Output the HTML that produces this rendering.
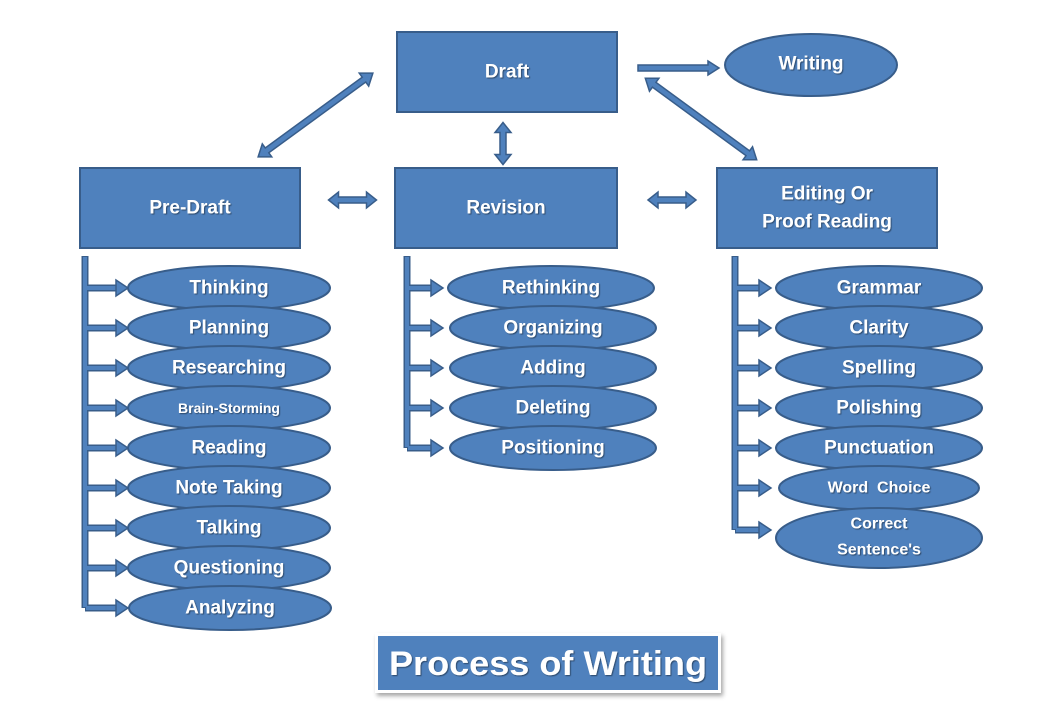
<!DOCTYPE html>
<html><head><meta charset="utf-8"><style>
html,body{margin:0;padding:0;background:#fff;}
svg{display:block;}
text{font-family:"Liberation Sans",sans-serif;font-weight:bold;fill:#fff;text-anchor:middle;dominant-baseline:central;}
.b{fill:#4f81bd;stroke:#385d8a;stroke-width:2;}
.a{fill:#4f81bd;stroke:#385d8a;stroke-width:1.5;stroke-linejoin:miter;}
.ld{fill:none;stroke:#385d8a;stroke-width:7;}
.ll{fill:none;stroke:#4f81bd;stroke-width:4;}
</style></head><body>
<svg width="1040" height="720" viewBox="0 0 1040 720" xmlns="http://www.w3.org/2000/svg">
<defs><filter id="sh" x="-10%" y="-20%" width="130%" height="150%"><feDropShadow dx="2" dy="3" stdDeviation="2" flood-color="#000" flood-opacity="0.35"/></filter>
<filter id="ts"><feDropShadow dx="1" dy="1" stdDeviation="0.6" flood-color="#000" flood-opacity="0.45"/></filter></defs>

<!-- main boxes -->
<rect class="b" x="397" y="32" width="220" height="80"/>
<text x="507" y="72" font-size="19" filter="url(#ts)">Draft</text>
<rect class="b" x="80" y="168" width="220" height="80"/>
<text x="190" y="208" font-size="19" filter="url(#ts)">Pre-Draft</text>
<rect class="b" x="395" y="168" width="222" height="80"/>
<text x="506" y="208" font-size="19" filter="url(#ts)">Revision</text>
<rect class="b" x="717" y="168" width="220" height="80"/>
<text x="827" y="194" font-size="19" filter="url(#ts)">Editing Or</text>
<text x="827" y="222" font-size="19" filter="url(#ts)">Proof Reading</text>
<ellipse class="b" cx="811" cy="65" rx="86" ry="31"/>
<text x="811" y="64" font-size="19" filter="url(#ts)">Writing</text>

<!-- arrows -->
<polygon class="a" transform="translate(315.5,115) rotate(-36.1)" points="-71,0 -60,-8 -60,-3 60,-3 60,-8 71,0 60,8 60,3 -60,3 -60,8"/>
<polygon class="a" transform="translate(701,119) rotate(36.2)" points="-69,0 -58,-8 -58,-3 58,-3 58,-8 69,0 58,8 58,3 -58,3 -58,8"/>
<polygon class="a" transform="translate(503,143.5) rotate(90)" points="-21,0 -11,-8 -11,-3 11,-3 11,-8 21,0 11,8 11,3 -11,3 -11,8"/>
<polygon class="a" transform="translate(352.5,200)" points="-24,0 -14,-8 -14,-3 14,-3 14,-8 24,0 14,8 14,3 -14,3 -14,8"/>
<polygon class="a" transform="translate(672,200)" points="-24,0 -14,-8 -14,-3 14,-3 14,-8 24,0 14,8 14,3 -14,3 -14,8"/>
<polygon class="a" points="638,65 708,65 708,61 719,68 708,75 708,71 638,71"/>

<!-- left brackets -->
<g>
<path class="ld" d="M85,256 V608"/>
<path class="ld" d="M85,288 H118 M85,328 H118 M85,368 H118 M85,408 H118 M85,448 H118 M85,488 H118 M85,528 H118 M85,568 H118 M85,608 H118"/>
<path class="ll" d="M85,257 V607"/>
<path class="ll" d="M86,288 H119 M86,328 H119 M86,368 H119 M86,408 H119 M86,448 H119 M86,488 H119 M86,528 H119 M86,568 H119 M86,608 H119"/>
<g class="a">
<polygon points="116,280 128,288 116,296"/><polygon points="116,320 128,328 116,336"/><polygon points="116,360 128,368 116,376"/>
<polygon points="116,400 128,408 116,416"/><polygon points="116,440 128,448 116,456"/><polygon points="116,480 128,488 116,496"/>
<polygon points="116,520 128,528 116,536"/><polygon points="116,560 128,568 116,576"/><polygon points="116,600 128,608 116,616"/>
</g>
</g>
<!-- middle brackets -->
<g>
<path class="ld" d="M407,256 V448"/>
<path class="ld" d="M407,288 H433 M407,328 H433 M407,368 H433 M407,408 H433 M407,448 H433"/>
<path class="ll" d="M407,257 V447"/>
<path class="ll" d="M408,288 H434 M408,328 H434 M408,368 H434 M408,408 H434 M408,448 H434"/>
<g class="a">
<polygon points="431,280 443,288 431,296"/><polygon points="431,320 443,328 431,336"/><polygon points="431,360 443,368 431,376"/>
<polygon points="431,400 443,408 431,416"/><polygon points="431,440 443,448 431,456"/>
</g>
</g>
<!-- right brackets -->
<g>
<path class="ld" d="M735,256 V530"/>
<path class="ld" d="M735,288 H761 M735,328 H761 M735,368 H761 M735,408 H761 M735,448 H761 M735,488 H761 M735,530 H761"/>
<path class="ll" d="M735,257 V529"/>
<path class="ll" d="M736,288 H762 M736,328 H762 M736,368 H762 M736,408 H762 M736,448 H762 M736,488 H762 M736,530 H762"/>
<g class="a">
<polygon points="759,280 771,288 759,296"/><polygon points="759,320 771,328 759,336"/><polygon points="759,360 771,368 759,376"/>
<polygon points="759,400 771,408 759,416"/><polygon points="759,440 771,448 759,456"/><polygon points="759,480 771,488 759,496"/>
<polygon points="759,522 771,530 759,538"/>
</g>
</g>

<!-- left ellipses -->
<g font-size="19">
<ellipse class="b" cx="229" cy="288" rx="101" ry="22"/><text x="229" y="288" filter="url(#ts)">Thinking</text>
<ellipse class="b" cx="229" cy="328" rx="101" ry="22"/><text x="229" y="328" filter="url(#ts)">Planning</text>
<ellipse class="b" cx="229" cy="368" rx="101" ry="22"/><text x="229" y="368" filter="url(#ts)">Researching</text>
<ellipse class="b" cx="229" cy="408" rx="101" ry="22"/><text x="229" y="408" font-size="14" filter="url(#ts)">Brain-Storming</text>
<ellipse class="b" cx="229" cy="448" rx="101" ry="22"/><text x="229" y="448" filter="url(#ts)">Reading</text>
<ellipse class="b" cx="229" cy="488" rx="101" ry="22"/><text x="229" y="488" filter="url(#ts)">Note Taking</text>
<ellipse class="b" cx="229" cy="528" rx="101" ry="22"/><text x="229" y="528" filter="url(#ts)">Talking</text>
<ellipse class="b" cx="229" cy="568" rx="101" ry="22"/><text x="229" y="568" filter="url(#ts)">Questioning</text>
<ellipse class="b" cx="230" cy="608" rx="101" ry="22"/><text x="230" y="608" filter="url(#ts)">Analyzing</text>
</g>
<!-- middle ellipses -->
<g font-size="19">
<ellipse class="b" cx="551" cy="288" rx="103" ry="22"/><text x="551" y="288" filter="url(#ts)">Rethinking</text>
<ellipse class="b" cx="553" cy="328" rx="103" ry="22"/><text x="553" y="328" filter="url(#ts)">Organizing</text>
<ellipse class="b" cx="553" cy="368" rx="103" ry="22"/><text x="553" y="368" filter="url(#ts)">Adding</text>
<ellipse class="b" cx="553" cy="408" rx="103" ry="22"/><text x="553" y="408" filter="url(#ts)">Deleting</text>
<ellipse class="b" cx="553" cy="448" rx="103" ry="22"/><text x="553" y="448" filter="url(#ts)">Positioning</text>
</g>
<!-- right ellipses -->
<g font-size="19">
<ellipse class="b" cx="879" cy="288" rx="103" ry="22"/><text x="879" y="288" filter="url(#ts)">Grammar</text>
<ellipse class="b" cx="879" cy="328" rx="103" ry="22"/><text x="879" y="328" filter="url(#ts)">Clarity</text>
<ellipse class="b" cx="879" cy="368" rx="103" ry="22"/><text x="879" y="368" filter="url(#ts)">Spelling</text>
<ellipse class="b" cx="879" cy="408" rx="103" ry="22"/><text x="879" y="408" filter="url(#ts)">Polishing</text>
<ellipse class="b" cx="879" cy="448" rx="103" ry="22"/><text x="879" y="448" filter="url(#ts)">Punctuation</text>
<ellipse class="b" cx="879" cy="488" rx="100" ry="22"/><text x="879" y="488" font-size="16" filter="url(#ts)">Word&#160;&#160;Choice</text>
<ellipse class="b" cx="879" cy="538" rx="103" ry="30"/><text x="879" y="524" font-size="16" filter="url(#ts)">Correct</text><text x="879" y="550" font-size="16" filter="url(#ts)">Sentence's</text>
</g>

<!-- title -->
<rect x="375" y="633" width="346" height="60" fill="#fff" filter="url(#sh)"/>
<rect x="378" y="636" width="340" height="54" fill="#4f81bd"/>
<text x="548" y="664" font-size="34" textLength="318" lengthAdjust="spacingAndGlyphs" filter="url(#ts)">Process of Writing</text>
</svg>
</body></html>
